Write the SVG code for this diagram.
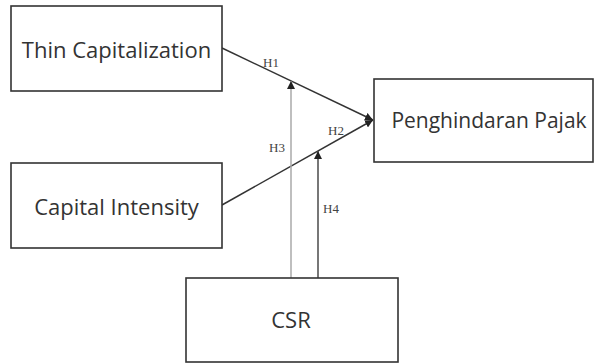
<svg xmlns="http://www.w3.org/2000/svg" width="595" height="364" viewBox="0 0 595 364">
<defs>
<style>
.box{fill:#fff;stroke:#333;stroke-width:1.6}
.lbl{font-family:"Open Sans","Noto Sans","Liberation Sans",sans-serif;font-size:22px;fill:#333;text-anchor:middle}
.h{font-family:"Liberation Serif","Times New Roman",serif;font-size:13px;fill:#444}
.ln{fill:none;stroke:#333;stroke-width:1.5}
</style>
<marker id="ah" viewBox="0 0 10 10" refX="10" refY="5" markerWidth="8" markerHeight="8" markerUnits="userSpaceOnUse" orient="auto">
<path d="M0,0 L10,5 L0,10 z" fill="#222"/>
</marker>
</defs>
<rect width="595" height="364" fill="#fff"/>
<g id="connectors">
<line class="ln" x1="222" y1="48" x2="373" y2="120" marker-end="url(#ah)"/>
<line class="ln" x1="222" y1="205" x2="373" y2="120" marker-end="url(#ah)"/>
<line x1="291" y1="278" x2="291" y2="81" stroke="#aaa" stroke-width="1.5" marker-end="url(#ah)"/>
<line x1="318" y1="278" x2="318" y2="151" stroke="#555" stroke-width="1.6" marker-end="url(#ah)"/>
<text class="h" x="263" y="67">H1</text>
<text class="h" x="328" y="135">H2</text>
<text class="h" x="269" y="152">H3</text>
<text class="h" x="323" y="213">H4</text>
</g>
<g id="thin">
<rect class="box" x="11" y="6" width="211" height="85"/>
<text class="lbl" x="116.5" y="58">Thin Capitalization</text>
</g>
<g id="capital">
<rect class="box" x="11" y="163" width="211" height="85"/>
<text class="lbl" x="116.5" y="215">Capital Intensity</text>
</g>
<g id="pajak">
<rect class="box" x="374" y="79" width="219" height="83"/>
<text class="lbl" x="489" y="128" style="font-size:21px">Penghindaran Pajak</text>
</g>
<g id="csr">
<rect class="box" x="186" y="278" width="212" height="84"/>
<text class="lbl" x="291" y="328">CSR</text>
</g>
</svg>
